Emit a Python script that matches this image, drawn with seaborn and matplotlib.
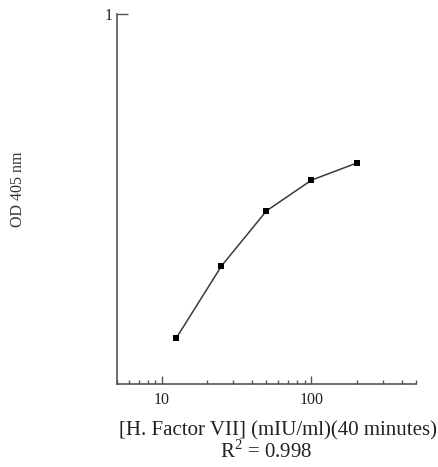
import seaborn as sns
import matplotlib.pyplot as plt
import pandas as pd
from matplotlib.ticker import LogLocator, FixedLocator, NullFormatter

sns.set_theme(style="white")
plt.rcParams["font.family"] = ["Liberation Serif", "DejaVu Serif"]
plt.rcParams["mathtext.fontset"] = "custom"
plt.rcParams["mathtext.rm"] = "Liberation Serif"

# Standard curve values
conc = [12.5, 25, 50, 100, 200]
od = [0.125, 0.319, 0.468, 0.551, 0.597]
x_ticks = [10, 100]
x_tick_labels = ["10", "100"]

data = pd.DataFrame({"conc": conc, "od": od})

fig = plt.figure(figsize=(4.39, 4.67), dpi=100)
ax = fig.add_axes([0.2665, 0.1777, 0.6811, 0.7923])

sns.lineplot(data=data, x="conc", y="od", color="#3a3a3a", linewidth=1.1, ax=ax)
sns.scatterplot(data=data, x="conc", y="od", marker="s", s=22, color="black",
                edgecolor="black", linewidth=0, ax=ax, zorder=3)

ax.set_xscale("log")
ax.set_xlim(5, 500)
ax.set_ylim(0, 1)

ax.xaxis.set_major_locator(FixedLocator(x_ticks))
ax.set_xticklabels(x_tick_labels)
ax.xaxis.set_minor_locator(LogLocator(base=10, subs=range(2, 10)))
ax.xaxis.set_minor_formatter(NullFormatter())
ax.set_yticks([1])
ax.set_yticklabels(["1"])

ax.tick_params(axis="x", which="major", direction="in", length=6, width=1, color="#555555",
               labelsize=11.5, pad=6, bottom=True, labelcolor="#222222")
ax.tick_params(axis="x", which="minor", direction="in", length=3, width=1, color="#555555",
               bottom=True)
ax.tick_params(axis="y", direction="in", length=8, width=1, color="#555555",
               labelsize=11.5, pad=3, left=True, labelcolor="#222222")

for side in ["top", "right"]:
    ax.spines[side].set_visible(False)
for side in ["left", "bottom"]:
    ax.spines[side].set_color("#555555")
    ax.spines[side].set_linewidth(1.2)

ax.set_xlabel("")
ax.set_ylabel("")

fig.text(0.041, 0.595, "OD 405 nm", rotation=90, ha="center", va="center",
         fontsize=11.5, color="#333333")
fig.text(0.634, 0.078, "[H. Factor VII] (mIU/ml)(40 minutes)", ha="center", va="center",
         fontsize=15, color="#222222")
fig.text(0.606, 0.008, r"R$^\mathrm{2}$ = 0.998", ha="center", va="bottom",
         fontsize=15, color="#222222")

fig.savefig("out.png", dpi=100, facecolor="white")
